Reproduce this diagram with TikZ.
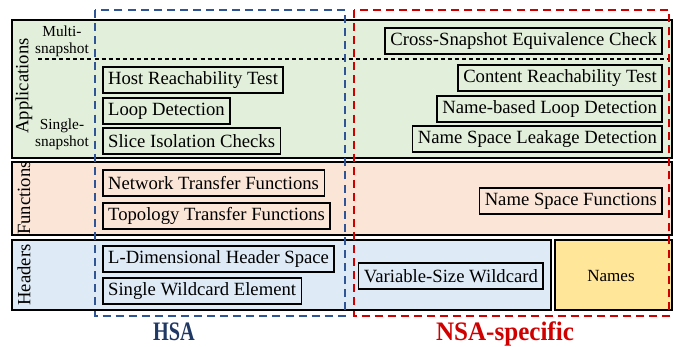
\documentclass[tikz,border=0pt]{standalone}
\usepackage{fontspec}
\setmainfont{Liberation Serif}
\usepackage{tikz}
\usetikzlibrary{positioning}
\definecolor{appgreen}{HTML}{E2EFDA}
\definecolor{funpeach}{HTML}{FBE5D6}
\definecolor{hdrblue}{HTML}{DEEBF7}
\definecolor{nameyel}{HTML}{FFE699}
\definecolor{hsablue}{HTML}{2F5597}
\definecolor{hsadark}{HTML}{203864}
\definecolor{nsared}{HTML}{D00000}

\begin{document}
\begin{tikzpicture}[
  x=0.75pt, y=-0.75pt,
  panel/.style={draw=black, line width=1.2pt},
  item/.style={draw=black, line width=1.2pt, inner xsep=4pt, inner ysep=0pt,
               minimum height=19.8pt, font=\fontsize{14}{16}\selectfont},
  rowlabel/.style={rotate=90, font=\fontsize{14}{16}\selectfont},
  sublabel/.style={align=center, font=\fontsize{11.5}{12.5}\selectfont},
  group/.style={line width=1.1pt, dash pattern=on 6pt off 3.8pt},
  grouplabel/.style={anchor=base, inner sep=0pt}
]
\useasboundingbox (0,0) rectangle (674,346);
% layer panels
\path[panel, fill=appgreen] (12,20) rectangle (672,158);
\path[panel, fill=funpeach] (12,162) rectangle (672,235);
\path[panel, fill=hdrblue] (12,240) rectangle (551,310);
\path[panel, fill=nameyel] (555,240) rectangle (672,310);
\draw[line width=1.1pt, dash pattern=on 3pt off 2.3pt] (38,59) -- (668,59);
\node[rowlabel] (applab) at (24,86) {Applications};
\node[rowlabel] (funlab) at (24,198) {Functions};
\node[rowlabel] (hdrlab) at (24,275) {Headers};
\node[sublabel] (multi) at (62,41) {Multi-\\snapshot};
\node[sublabel] (single) at (62,134) {Single-\\snapshot};
\node (names) at (611,276) {\fontsize{12.8}{14}\selectfont Names};
% groups
\draw[group, hsablue] (95,10) rectangle (345,316);
\draw[group, nsared] (354,10) rectangle (669,316);
\node[grouplabel, text=hsadark] (hsa) at (174,340)
  {\fontsize{20}{22}\bfseries\selectfont\addfontfeature{FakeStretch=0.76}HSA};
\node[grouplabel, text=nsared] (nsa) at (505,340)
  {\fontsize{20}{22}\bfseries\selectfont\addfontfeature{FakeStretch=0.94}NSA-specific};
% HSA boxes
\node[item, anchor=north west] (hostreach) at (102,66) {Host Reachability Test};
\node[item, anchor=north west] (loopdet) at (102,97) {Loop Detection};
\node[item, anchor=north west] (slice) at (102,127) {Slice Isolation Checks};
\node[item, anchor=north west] (ntf) at (102,169) {Network Transfer Functions};
\node[item, anchor=north west] (ttf) at (102,202) {Topology Transfer Functions};
\node[item, anchor=north west] (ldim) at (102,245) {L-Dimensional Header Space};
\node[item, anchor=north west] (wild) at (102,277) {Single Wildcard Element};
% NSA boxes
\node[item, anchor=north east] (cross) at (663,27) {Cross-Snapshot Equivalence Check};
\node[item, anchor=north east] (content) at (663,64) {Content Reachability Test};
\node[item, anchor=north east] (nameloop) at (663,95) {Name-based Loop Detection};
\node[item, anchor=north east] (leak) at (663,125) {Name Space Leakage Detection};
\node[item, anchor=north east] (nsf) at (663,187) {Name Space Functions};
\node[item, anchor=north east] (varwild) at (544,262) {Variable-Size Wildcard};
\end{tikzpicture}
\end{document}
